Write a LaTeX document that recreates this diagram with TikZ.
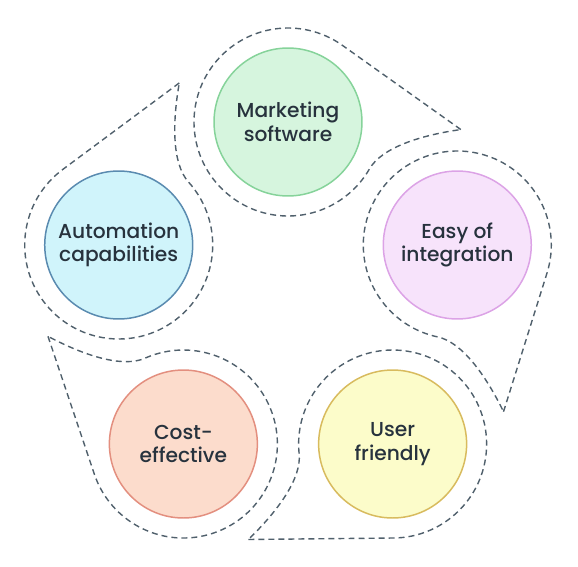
\documentclass[tikz,border=0pt]{standalone}
\usepackage{fontspec}
\setmainfont{Poppins}
\newfontfamily\labelfont{Poppins Medium}
\usepackage{tikz}
\usetikzlibrary{shapes.geometric, positioning}
\usepackage{xcolor}
\definecolor{TextSlate}{HTML}{27323D}
\definecolor{DashSlate}{HTML}{50606C}
\definecolor{MintFill}{HTML}{D6F5DE}
\definecolor{MintLine}{HTML}{86D39A}
\definecolor{LilacFill}{HTML}{F7E3FB}
\definecolor{LilacLine}{HTML}{DCA3E6}
\definecolor{LemonFill}{HTML}{FCFCCA}
\definecolor{LemonLine}{HTML}{D8BB5E}
\definecolor{PeachFill}{HTML}{FCDCCC}
\definecolor{PeachLine}{HTML}{E38F7F}
\definecolor{SkyFill}{HTML}{D0F4FB}
\definecolor{SkyLine}{HTML}{5A8BB0}
\tikzset{
    % Circle styles
    bubble/.style={
        circle,
        line width=0.85pt,
        minimum size=2.96cm,
        inner sep=0pt,
        align=center,
        text=TextSlate,
        font=\labelfont\fontsize{11.5}{13.4}\selectfont
    },
    marketing/.style={bubble, draw=MintLine, fill=MintFill},
    integration/.style={bubble, draw=LilacLine, fill=LilacFill},
    friendly/.style={bubble, draw=LemonLine, fill=LemonFill},
    costly/.style={bubble, draw=PeachLine, fill=PeachFill},
    automation/.style={bubble, draw=SkyLine, fill=SkyFill},
    % Dashed outline round each circle
    outline/.style={
        draw=DashSlate,
        line width=0.8pt,
        dash pattern=on 3.4pt off 2.3pt
    },
    pics/petal/.style={
        code={
            \draw[outline] (-2.5:173) -- (54.6:94)
                arc[start angle=54.6, end angle=330, radius=94]
                .. controls +(60:25) and +(188:40) .. (-2.5:173);
        }
    }
}
\begin{document}
\begin{tikzpicture}[x=0.02cm, y=0.02cm]
    \useasboundingbox (-288,-266) rectangle (290,300);

    \node[marketing] (mkt) at (90:178) {Marketing\\software};
    \node[integration] (easy) at (18:178) {Easy of\\integration};
    \node[friendly] (user) at (-54:178) {User\\friendly};
    \node[costly] (cost) at (-126:178) {Cost-\\effective};
    \node[automation] (auto) at (162:178) {Automation\\capabilities};

    \pic[rotate=0] at (mkt.center) {petal};
    \pic[rotate=-72] at (easy.center) {petal};
    \pic[rotate=-144] at (user.center) {petal};
    \pic[rotate=144] at (cost.center) {petal};
    \pic[rotate=72] at (auto.center) {petal};
\end{tikzpicture}
\end{document}
